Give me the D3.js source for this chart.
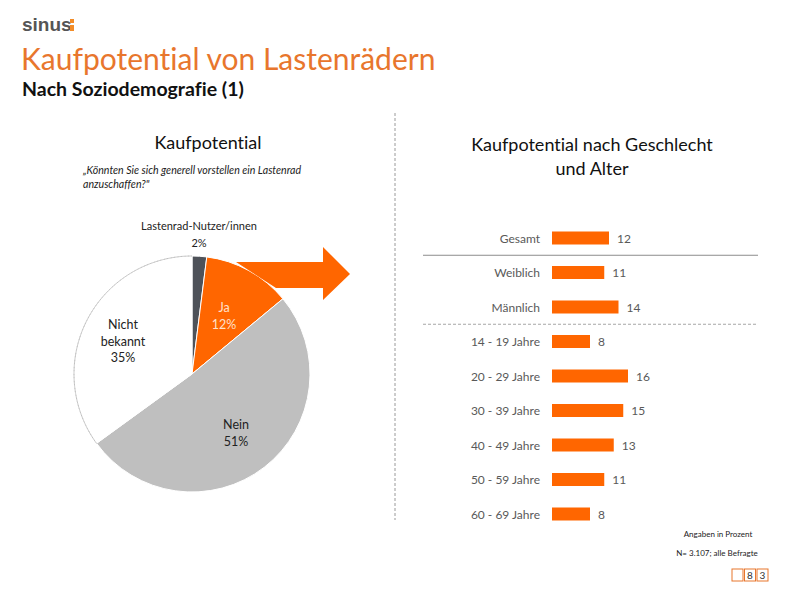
<!DOCTYPE html>
<html><head><meta charset="utf-8">
<script src="https://cdn.jsdelivr.net/npm/d3@7/dist/d3.min.js"></script>
<style>
body{margin:0;background:#fff;}
svg{display:block;font-family:Lato, "Open Sans", sans-serif;font-variant-ligatures:none;}
</style></head>
<body><svg id="c" width="790" height="593"></svg>
<script>
// ---- data ----
const pieLabels = ["Lastenrad-Nutzer/innen", "Ja", "Nein", "Nicht bekannt"];
const pieValues = [2, 12, 51, 35];
const pieColors = ["#4e5259", "#ff6600", "#bfbfbf", "#ffffff"];

const barCategories = ["Gesamt", "Weiblich", "Männlich", "14 - 19 Jahre", "20 - 29 Jahre", "30 - 39 Jahre", "40 - 49 Jahre", "50 - 59 Jahre", "60 - 69 Jahre"];
const barValues = [12, 11, 14, 8, 16, 15, 13, 11, 8];

const svg = d3.select("#c");

// ---- header ----
svg.append("text").attr("x", 22).attr("y", 31).attr("font-size", 19).attr("font-weight", 700)
  .attr("fill", "#555").attr("font-family", "Liberation Sans, Arial, sans-serif").text("sinus");
svg.append("rect").attr("x", 70).attr("y", 19).attr("width", 4).attr("height", 4).attr("fill", "#f28c28");
svg.append("rect").attr("x", 70).attr("y", 25).attr("width", 4).attr("height", 6).attr("fill", "#f28c28");

svg.append("text").attr("x", 21).attr("y", 70).attr("font-size", 30).attr("fill", "#e8762d")
  .text("Kaufpotential von Lastenrädern");
svg.append("text").attr("x", 22).attr("y", 96).attr("font-size", 19.5).attr("font-weight", 700).attr("fill", "#111")
  .text("Nach Soziodemografie (1)");

// vertical dashed divider
svg.append("line").attr("x1", 395).attr("x2", 395).attr("y1", 113).attr("y2", 520)
  .attr("stroke", "#9a9a9a").attr("stroke-width", 1).attr("stroke-dasharray", "3,2");

// ---- left panel ----
svg.append("text").attr("x", 208).attr("y", 149).attr("text-anchor", "middle").attr("font-size", 18).attr("fill", "#111")
  .text("Kaufpotential");
const q = svg.append("text").attr("font-size", 10.6).attr("font-style", "italic").attr("fill", "#222");
q.append("tspan").attr("x", 83).attr("y", 174).text("„Könnten Sie sich generell vorstellen ein Lastenrad");
q.append("tspan").attr("x", 83).attr("y", 188).text("anzuschaffen?\"");

const cx = 192, cy = 374, R = 118;
const pie = d3.pie().sort(null).value(d => d)(pieValues);
const arc = d3.arc().innerRadius(0).outerRadius(R);
const g = svg.append("g").attr("transform", `translate(${cx},${cy})`);

// orange arrow (decorative, behind the pie edge)
svg.append("path")
  .attr("d", "M236,262 L323,262 L323,247 L350,274 L323,300 L323,288 L276,288 Z")
  .attr("fill", "#ff6600");

g.selectAll("path.slice").data(pie).join("path").attr("class", "slice")
  .attr("d", arc)
  .attr("fill", (d, i) => pieColors[i])
  .attr("stroke", "#fff").attr("stroke-width", 1);

// dashed outline on the white slice
const white = pie[3];
g.append("path")
  .attr("d", d3.arc().innerRadius(R).outerRadius(R)({startAngle: white.startAngle, endAngle: white.endAngle}))
  .attr("fill", "none").attr("stroke", "#b5b5b5").attr("stroke-width", 0.8).attr("stroke-dasharray", "2,1.5");

// pie labels
function lbl(lines, x, y, color, fs) {
  const t = svg.append("text").attr("text-anchor", "middle").attr("font-size", fs).attr("fill", color);
  lines.forEach((l, i) => t.append("tspan").attr("x", x).attr("y", y + i * 16.5).text(l));
}
lbl([pieLabels[0], pieValues[0] + "%"], 199, 230, "#222", 11);
lbl([pieLabels[1], pieValues[1] + "%"], 224, 312, "#ffe0cc", 12.5);
lbl([pieLabels[2], pieValues[2] + "%"], 236, 429, "#222", 12.5);
lbl(["Nicht", "bekannt", pieValues[3] + "%"], 123, 329, "#222", 12.5);

// ---- right panel ----
const t2 = svg.append("text").attr("text-anchor", "middle").attr("font-size", 18).attr("fill", "#111");
t2.append("tspan").attr("x", 592).attr("y", 151).text("Kaufpotential nach Geschlecht");
t2.append("tspan").attr("x", 592).attr("y", 175).text("und Alter");

const x = d3.scaleLinear().domain([0, 20]).range([552, 647]);
const y = d3.scalePoint().domain(barCategories).range([238, 514]);
const bh = 13;

svg.selectAll("rect.bar").data(barValues).join("rect").attr("class", "bar")
  .attr("x", x(0)).attr("y", (d, i) => y(barCategories[i]) - bh / 2)
  .attr("width", d => x(d) - x(0)).attr("height", bh).attr("fill", "#ff6600");

svg.selectAll("text.cat").data(barCategories).join("text").attr("class", "cat")
  .attr("x", 540).attr("y", d => y(d) + 4.5).attr("text-anchor", "end")
  .attr("font-size", 12).attr("fill", "#595959").text(d => d);

svg.selectAll("text.val").data(barValues).join("text").attr("class", "val")
  .attr("x", d => x(d) + 8).attr("y", (d, i) => y(barCategories[i]) + 4.5)
  .attr("font-size", 12).attr("fill", "#595959").text(d => d);

// separators
const sep1 = (y(barCategories[0]) + y(barCategories[1])) / 2;
const sep2 = (y(barCategories[2]) + y(barCategories[3])) / 2;
svg.append("line").attr("x1", 423).attr("x2", 758).attr("y1", sep1).attr("y2", sep1)
  .attr("stroke", "#8c8c8c").attr("stroke-width", 1);
svg.append("line").attr("x1", 423).attr("x2", 758).attr("y1", sep2).attr("y2", sep2)
  .attr("stroke", "#a6a6a6").attr("stroke-width", 1).attr("stroke-dasharray", "3,2");

// ---- footer ----
svg.append("text").attr("x", 718).attr("y", 537).attr("text-anchor", "middle").attr("font-size", 8).attr("fill", "#222")
  .text("Angaben in Prozent");
svg.append("text").attr("x", 717).attr("y", 556).attr("text-anchor", "middle").attr("font-size", 8).attr("fill", "#222")
  .text("N= 3.107; alle Befragte");

const pg = ["", "8", "3"];
pg.forEach((p, i) => {
  const bx = 732 + i * 12.5;
  svg.append("rect").attr("x", bx).attr("y", 569).attr("width", 11).attr("height", 12)
    .attr("fill", "#fff").attr("stroke", "#e8762d").attr("stroke-width", 1);
  svg.append("text").attr("x", bx + 5.5).attr("y", 579).attr("text-anchor", "middle")
    .attr("font-size", 10).attr("fill", "#333").text(p);
});
</script></body></html>
